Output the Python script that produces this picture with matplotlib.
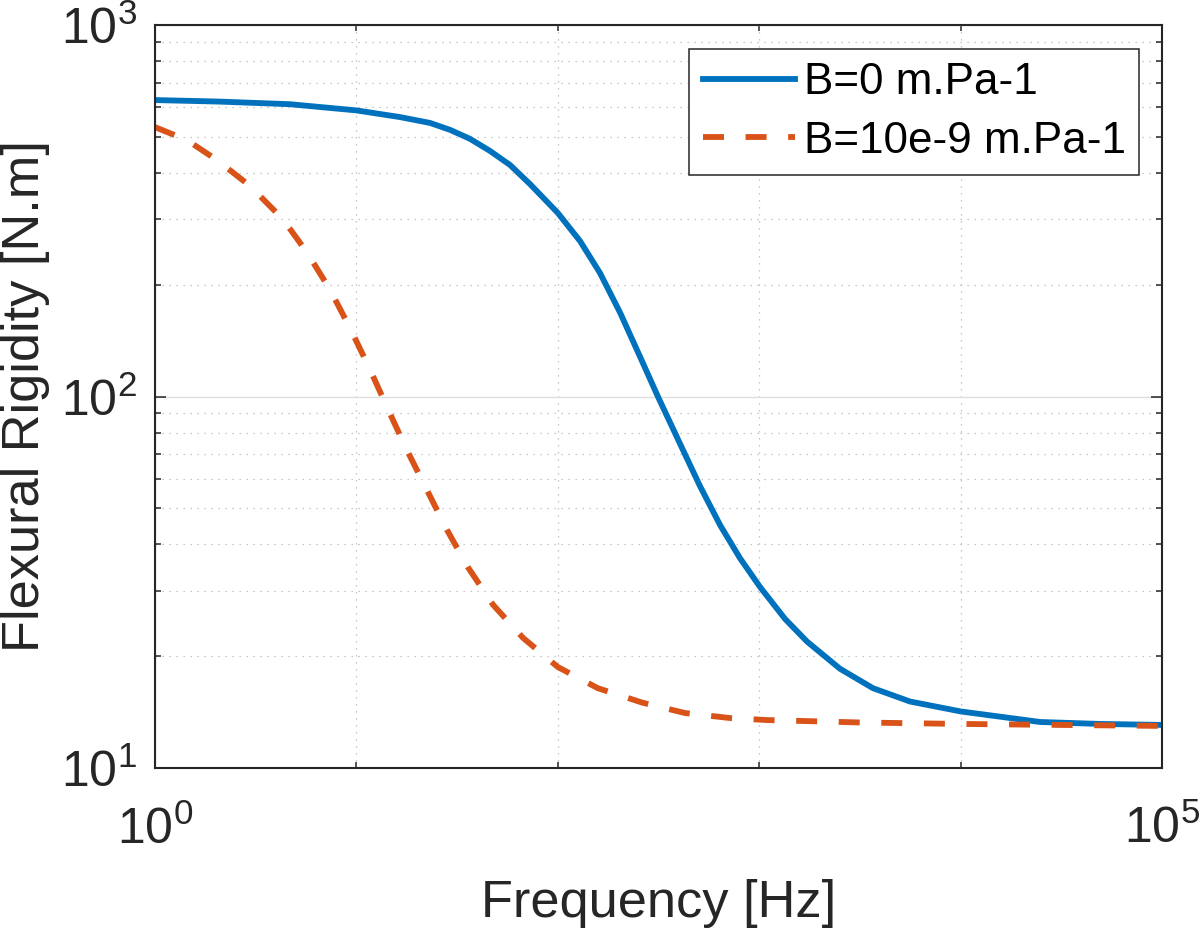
import matplotlib.pyplot as plt
from matplotlib.ticker import FixedLocator, LogLocator, NullFormatter

plt.rcParams["font.family"] = ["Liberation Sans", "DejaVu Sans"]

# values (log-log)
freq_b0 = [1, 2.10, 4.68, 10, 16.5, 23.2, 29.2, 36.6, 46.1, 57.9, 72.8,
           100, 129, 162, 204, 256, 314, 405, 508, 639, 803, 1010, 1343,
           1727, 2518, 3672, 5606, 10000, 24800, 49200, 100000]
rigidity_b0 = [628, 622, 612, 589, 565, 545, 522, 494, 458, 420, 373,
               312, 262, 215, 168, 128, 100, 74.5, 57.4, 45.1, 36.7, 30.7,
               25.2, 21.9, 18.5, 16.4, 15.1, 14.2, 13.3, 13.14, 13.06]

freq_b9 = [1, 1.44, 2.03, 2.96, 4.32, 5.69, 7.39, 9.29, 11.7, 14.4, 17.8,
           22.4, 28.2, 35.8, 47.7, 67.2, 100, 158, 262, 428, 716, 1093,
           3165, 10000, 31000, 100000]
rigidity_b9 = [531, 490, 433, 369, 300, 244, 194, 153, 118, 92, 71.8, 56,
               43.7, 34.7, 27.5, 22.4, 18.7, 16.4, 15.0, 14.06, 13.63,
               13.46, 13.26, 13.14, 13.06, 12.98]

labels = ["B=0 m.Pa-1", "B=10e-9 m.Pa-1"]
x_major = [1, 1e5]
x_minor = [10, 100, 1000, 1e4]
y_major = [10, 100, 1000]

BLUE = "#0072BD"
RED = "#D95319"
AXIS_COLOR = "#262626"

fig = plt.figure(figsize=(12, 9.31), dpi=100)
ax = fig.add_axes([155 / 1200, 1 - 768 / 931, 1007 / 1200, 743 / 931])

ax.plot(freq_b0, rigidity_b0, color=BLUE, lw=4.2, label=labels[0],
        solid_joinstyle="round")
ax.plot(freq_b9, rigidity_b9, color=RED, lw=4.2, ls=(0, (3.6, 3.7)),
        label=labels[1])

ax.set_xscale("log")
ax.set_yscale("log")
ax.set_xlim(1, 1e5)
ax.set_ylim(10, 1000)

ax.xaxis.set_major_locator(FixedLocator(x_major))
ax.xaxis.set_minor_locator(FixedLocator(x_minor))
ax.xaxis.set_minor_formatter(NullFormatter())
ax.yaxis.set_major_locator(FixedLocator(y_major))
ax.yaxis.set_minor_locator(LogLocator(base=10, subs=range(2, 10)))
ax.yaxis.set_minor_formatter(NullFormatter())

ax.set_axisbelow(True)
ax.grid(which="major", color="#dedede", lw=1.0, ls="-")
ax.grid(which="minor", color="#b5b5b5", lw=0.9, ls=(0, (1, 4.6)))

ax.tick_params(which="both", direction="in", top=True, right=True,
               color=AXIS_COLOR, labelcolor=AXIS_COLOR, width=1.1)
ax.tick_params(which="major", length=7.7, labelsize=36)
ax.tick_params(which="minor", length=4.1)
ax.tick_params(axis="x", which="major", pad=27)
ax.tick_params(axis="y", which="major", pad=13)

for spine in ax.spines.values():
    spine.set_color(AXIS_COLOR)
    spine.set_linewidth(1.5)

ax.set_xlabel("Frequency [Hz]", fontsize=37.7, color=AXIS_COLOR)
ax.xaxis.set_label_coords(0.5, -0.150)
ax.set_ylabel("Flexural Rigidity [N.m]", fontsize=37.7, color=AXIS_COLOR)
ax.yaxis.set_label_coords(-0.104, 0.5)

leg = ax.legend(loc="upper right", bbox_to_anchor=(0.9772, 0.9677),
                borderaxespad=0, fontsize=31.7, handlelength=2.1,
                handletextpad=0.2, borderpad=0.3, labelspacing=0.4,
                fancybox=False, framealpha=1, edgecolor=AXIS_COLOR)
leg.get_frame().set_linewidth(1.1)

fig.savefig("out.png", dpi=100)
